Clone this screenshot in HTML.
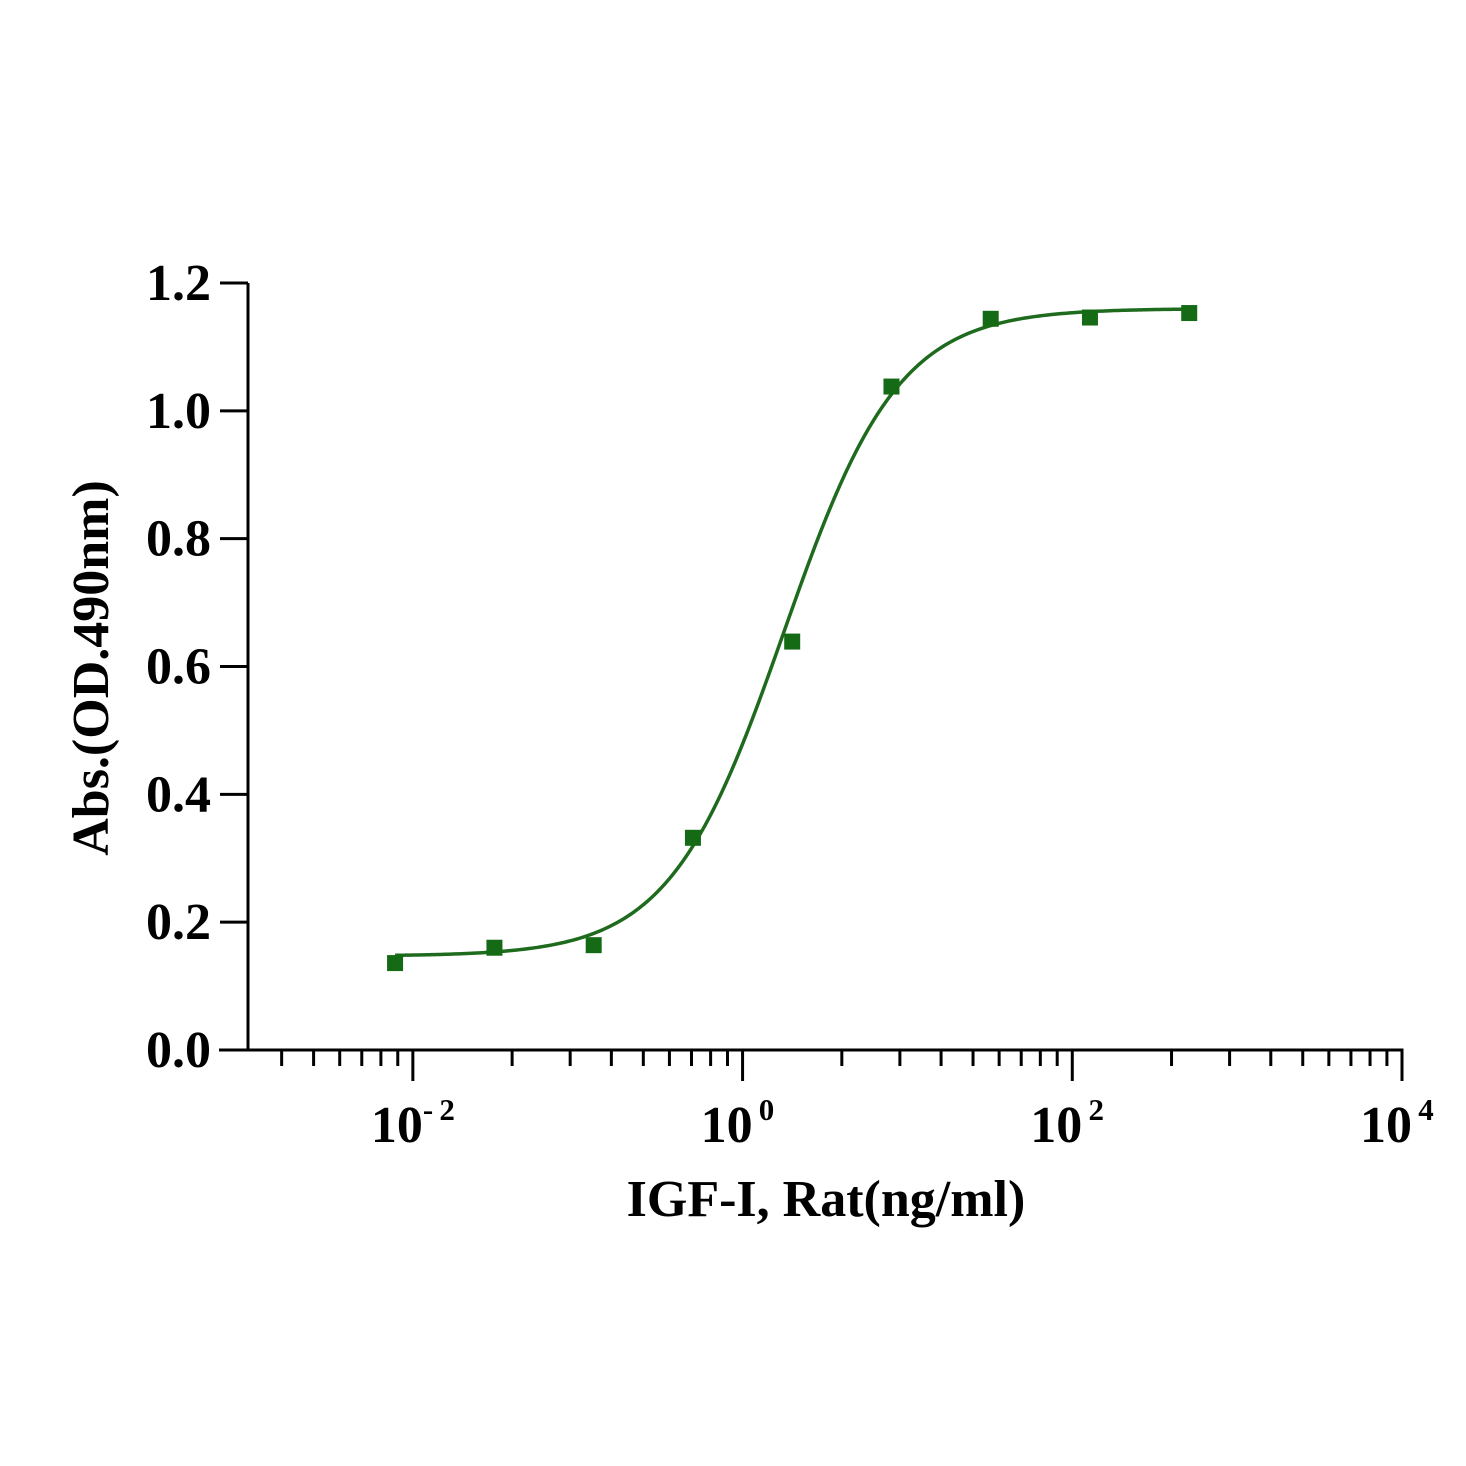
<!DOCTYPE html>
<html><head><meta charset="utf-8"><style>
html,body{margin:0;padding:0;background:#fff;}
svg{display:block;}
text{font-family:"Liberation Serif",serif;font-weight:bold;fill:#000;}
</style></head><body>
<svg id="chart" width="1466" height="1466" viewBox="0 0 1466 1466" xmlns="http://www.w3.org/2000/svg">
<g id="axes"></g>
<g id="plot"></g>
<text x="0" y="0" font-size="52" text-anchor="middle" transform="translate(108,668) rotate(-90)">Abs.(OD.490nm)</text>
<text x="826" y="1216" font-size="52" text-anchor="middle">IGF-I, Rat(ng/ml)</text>
</svg>
<script>
const concentrations = [0.0078, 0.03125, 0.125, 0.5, 2, 8, 32, 128, 512];
const absorbance = [0.136, 0.160, 0.164, 0.332, 0.639, 1.038, 1.144, 1.146, 1.153];
const fitBottom = 0.147, fitTop = 1.16, fitLogEC50 = 0.25, fitHill = 1.25;
const yTicks = [0.0, 0.2, 0.4, 0.6, 0.8, 1.0, 1.2];
const yTickLabels = ["0.0","0.2","0.4","0.6","0.8","1.0","1.2"];
const xMajorExps = [-2, 0, 2, 4];

const NS = "http://www.w3.org/2000/svg";
const X0 = 248, XR = 1402, Y0 = 1050, YT = 283;
const logMin = -3, logMax = 4;
function xs(v){ return X0 + (Math.log10(v) - logMin) / (logMax - logMin) * (XR - X0); }
function ys(v){ return Y0 - v / 1.2 * (Y0 - YT); }
function el(tag, attrs, parent){ const e = document.createElementNS(NS, tag); for (const k in attrs) e.setAttribute(k, attrs[k]); parent.appendChild(e); return e; }
const axes = document.getElementById('axes'), plot = document.getElementById('plot');

let a = el('line', {x1:X0, y1:YT, x2:X0, y2:Y0+1.5, stroke:'#000','stroke-width':3}, axes);


a = el('line', {x1:219, y1:Y0, x2:XR+1.5, y2:Y0, stroke:'#000','stroke-width':3}, axes);



yTicks.forEach((v, i) => {
  const y = ys(v);
  const t = el('line', {x1:220, y1:y, x2:X0, y2:y, stroke:'#000','stroke-width':3}, axes);
  
  
  const l = el('text', {x:211, y:y+17, 'font-size':52, 'text-anchor':'end'}, axes);
  l.textContent = yTickLabels[i];
  
  
});

xMajorExps.forEach(e => {
  const x = xs(Math.pow(10, e));
  const t = el('line', {x1:x, y1:Y0, x2:x, y2:1081, stroke:'#000','stroke-width':3}, axes);
  
  
  const l = el('text', {x:x-42, y:1142, 'font-size':52}, axes);
  l.textContent = '10';
  const s = el('tspan', {dy:-22, 'font-size':31}, l);
  s.textContent = (e < 0 ? '-' : '') + '\u2009' + Math.abs(e);
  
  
});
for (let e = -4; e < 4; e += 2) {
  for (let k = 2; k <= 9; k++) {
    const x = xs(Math.pow(10, e + 2*Math.log10(k)));
    if (x < X0 + 4 || x > XR) continue;
    const t = el('line', {x1:x, y1:Y0, x2:x, y2:1066, stroke:'#000','stroke-width':3}, axes);
    
    
  }
}

function fit(c){ return fitBottom + (fitTop - fitBottom) / (1 + Math.pow(10, (fitLogEC50 - Math.log10(c)) * fitHill)); }
let d = '';
const lo = Math.log10(concentrations[0]), hi = Math.log10(concentrations[concentrations.length-1]);
for (let i = 0; i <= 300; i++) {
  const lc = lo + (hi - lo) * i / 300, c = Math.pow(10, lc);
  d += (i ? 'L' : 'M') + xs(c).toFixed(2) + ',' + ys(fit(c)).toFixed(2);
}
const curve = el('path', {d:d, fill:'none', stroke:'#1e6b1e', 'stroke-width':3.5}, plot);



concentrations.forEach((c, i) => {
  const x = xs(c), y = ys(absorbance[i]);
  const p = el('rect', {x:x-8, y:y-8, width:16, height:16, fill:'#156b15'}, plot);
  
  
});
</script>
</body></html>
